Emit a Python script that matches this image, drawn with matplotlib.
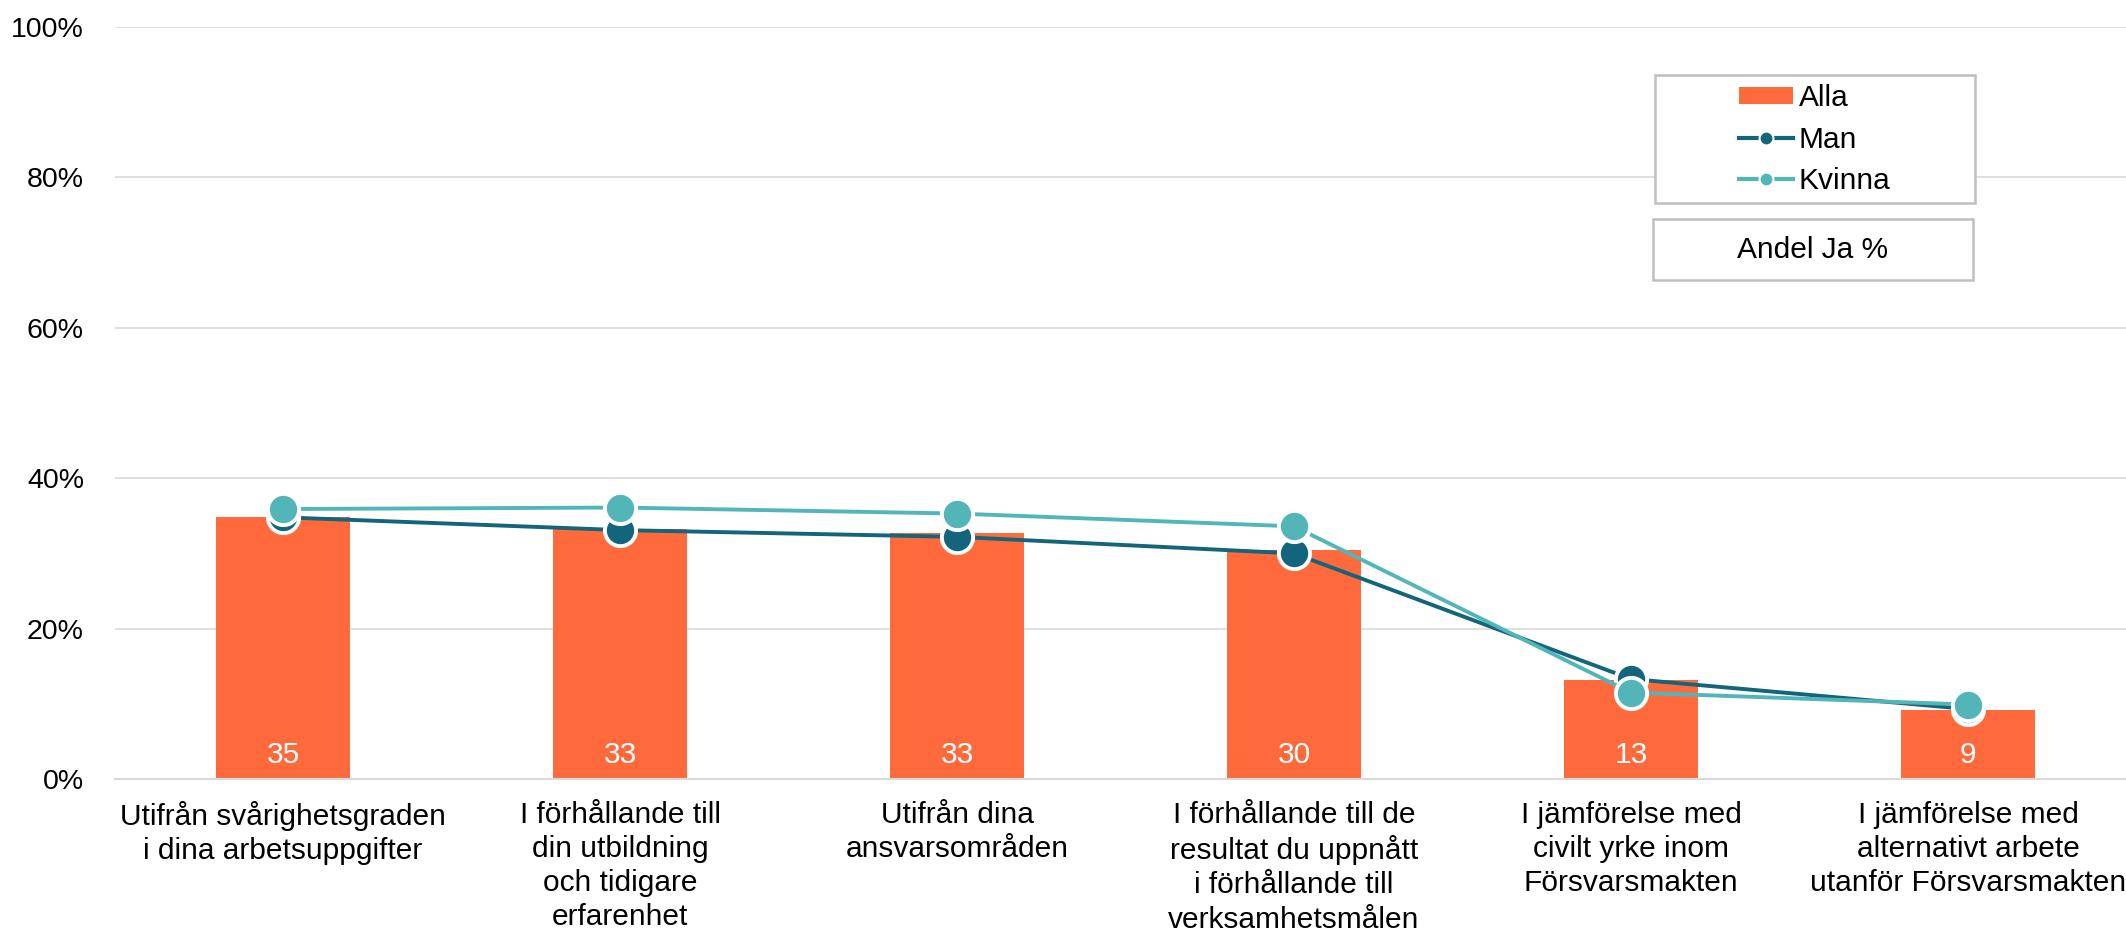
import numpy as np
import matplotlib
matplotlib.use("Agg")
import matplotlib.pyplot as plt
from matplotlib.patches import Rectangle, Patch
from matplotlib.lines import Line2D

plt.rcParams['font.family'] = ['Liberation Sans', 'DejaVu Sans']

categories = [
    "Utifrån svårighetsgraden\ni dina arbetsuppgifter",
    "I förhållande till\ndin utbildning\noch tidigare\nerfarenhet",
    "Utifrån dina\nansvarsområden",
    "I förhållande till de\nresultat du uppnått\ni förhållande till\nverksamhetsmålen",
    "I jämförelse med\ncivilt yrke inom\nFörsvarsmakten",
    "I jämförelse med\nalternativt arbete\nutanför Försvarsmakten",
]
alla = [34.9, 33.3, 32.7, 30.4, 13.1, 9.2]
alla_labels = ["35", "33", "33", "30", "13", "9"]
man = [34.8, 33.1, 32.2, 30.0, 13.3, 9.3]
kvinna = [35.9, 36.1, 35.3, 33.6, 11.5, 9.9]
yticks = [0, 20, 40, 60, 80, 100]

c_alla = "#FF6A3D"
c_man = "#12657A"
c_kvinna = "#52B6B9"
fs = 21.5

fig = plt.figure(figsize=(21.26, 9.30), dpi=100)
ax = fig.add_axes([114.5 / 2126, 151 / 930, 2022 / 2126, 752 / 930])

x = np.arange(len(categories))
bars = ax.bar(x, alla, width=0.4, color=c_alla, zorder=2)
for xi, lab in zip(x, alla_labels):
    ax.annotate(lab, (xi, 0), xytext=(0, 24), textcoords="offset pixels",
                ha="center", va="center", color="white", fontsize=fs, zorder=5)

ax.plot(x, man, color=c_man, lw=2.8, marker="o", ms=22.5, mfc=c_man,
        mec="white", mew=2.8, zorder=3)
ax.plot(x, kvinna, color=c_kvinna, lw=2.8, marker="o", ms=22.5, mfc=c_kvinna,
        mec="white", mew=2.8, zorder=4)

ax.set_xlim(-0.5, 5.5)
ax.set_ylim(0, 100)
ax.set_yticks(yticks)
ax.set_yticklabels([f"{v}%" for v in yticks], fontsize=20.5)
ax.set_xticks(x)
ax.set_xticklabels(categories, fontsize=fs, linespacing=1.28)
ax.tick_params(axis="both", length=0)
ax.tick_params(axis="y", pad=22)
ax.tick_params(axis="x", pad=15.5)
ax.grid(axis="y", color="#d9d9d9", lw=1.2, zorder=0)
for s in ["top", "right", "left"]:
    ax.spines[s].set_visible(False)
ax.spines["bottom"].set_color("#d9d9d9")
ax.spines["bottom"].set_linewidth(1.5)

# legend boxes
fig.patches.append(Rectangle((1655 / 2126, 1 - 203 / 930), 320 / 2126, 128 / 930,
                             transform=fig.transFigure, fill=True, fc="white",
                             ec="#bfbfbf", lw=1.8, zorder=10))
fig.patches.append(Rectangle((1653 / 2126, 1 - 280 / 930), 320 / 2126, 61 / 930,
                             transform=fig.transFigure, fill=True, fc="white",
                             ec="#bfbfbf", lw=1.8, zorder=10))
fig.text(1813 / 2126, 1 - 249.5 / 930, "Andel Ja %", ha="center", va="center",
         fontsize=fs, zorder=11)

handles = [
    Patch(facecolor=c_alla, edgecolor="none"),
    Line2D([0], [0], color=c_man, lw=3, marker="o", ms=10, mfc=c_man, mec="white", mew=1.5),
    Line2D([0], [0], color=c_kvinna, lw=3, marker="o", ms=10, mfc=c_kvinna, mec="white", mew=1.5),
]
leg = fig.legend(handles, ["Alla", "Man", "Kvinna"], loc="center",
                 bbox_to_anchor=(1815 / 2126, 1 - 139.5 / 930), frameon=False,
                 fontsize=fs, handlelength=1.8, handletextpad=0.2,
                 labelspacing=0.45, borderpad=0, handleheight=0.55)
leg.set_zorder(12)

fig.savefig("out.png", dpi=100)
